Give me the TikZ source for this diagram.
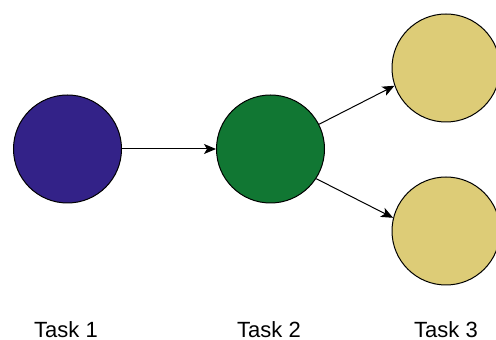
\documentclass[tikz,border=0pt]{standalone}
\usepackage{fontspec}
\setmainfont{Liberation Sans}
\usetikzlibrary{arrows.meta,positioning}

\definecolor{taskpurple}{HTML}{332288}
\definecolor{taskgreen}{HTML}{117733}
\definecolor{tasksand}{HTML}{DDCC77}

\begin{document}
\begin{tikzpicture}[
                x=1pt, y=1pt,
                task/.style={circle, draw=black, line width=1pt, minimum size=108pt, inner sep=0pt},
                lab/.style={font=\fontsize{22}{26}\selectfont, anchor=base, inner sep=0pt, text depth=0pt},
                link/.style={-{Stealth[length=12pt,width=10pt,inset=3pt]}, line width=1pt}
            ]

                \clip (0,0) rectangle (496,340);

% tasks
                \node[task, fill=taskpurple] (t1) at (67.5,191) {};
                \node[task, fill=taskgreen] (t2) at (270.5,191) {};
                \node[task, fill=tasksand] (t3a) at (446,272) {};
                \node[task, fill=tasksand] (t3b) at (446,109) {};

% links
                \draw[link] (t1) -- (t2);
                \draw[link] (t2.27) -- (t3a.199);
                \draw[link] (t2.-33) -- (t3b.166);

% labels
                \node[lab] (l1) at (66,2.5) {Task 1};
                \node[lab] (l2) at (269,2.5) {Task 2};
                \node[lab] (l3) at (446,2.5) {Task 3};

            \end{tikzpicture}
\end{document}
